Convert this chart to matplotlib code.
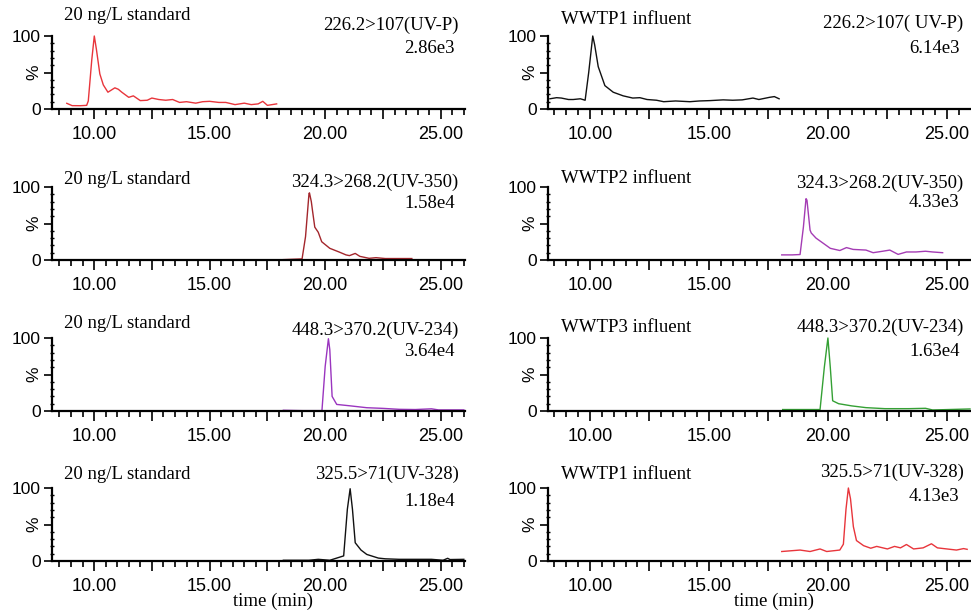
import matplotlib.pyplot as plt
from matplotlib.ticker import MultipleLocator, FuncFormatter

# Chromatogram traces (time in min, relative intensity in %)
t_uvp_std = [8.82, 9.05, 9.4, 9.68, 9.75, 9.9, 10.01, 10.1, 10.25, 10.4, 10.6, 10.75, 10.9, 11.05,
             11.2, 11.5, 11.7, 12.0, 12.3, 12.5, 12.8, 13.1, 13.4, 13.7, 14.0, 14.4, 14.7, 15.0,
             15.4, 15.7, 16.1, 16.5, 16.8, 17.1, 17.3, 17.5, 17.9]
y_uvp_std = [7.8, 4.6, 4.5, 5, 11, 67, 100, 82, 48, 33, 23, 26, 29, 27,
             23, 16, 18, 11.5, 12, 15, 13, 12, 13, 9, 10, 8, 10, 10.5,
             9, 9, 6, 8, 6, 7, 10.5, 5, 7]

t_uvp_inf = [8.32, 8.6, 8.8, 9.1, 9.3, 9.6, 9.8, 9.95, 10.12, 10.2, 10.35, 10.63, 10.98, 11.4,
             11.8, 12.1, 12.4, 12.8, 13.1, 13.6, 14.2, 14.6, 15.05, 15.6, 16.0, 16.4, 16.85,
             17.1, 17.55, 17.75, 17.95]
y_uvp_inf = [14, 15.5, 15, 13, 13, 14, 12, 50, 100, 88, 58, 32, 23, 18,
             15, 15.5, 13, 12, 10, 11, 10, 11, 11.5, 12.5, 12, 12.5, 15,
             13, 16, 17, 14]

t_uv350_std = [18.19, 18.6, 19.0, 19.15, 19.3, 19.32, 19.4, 19.45, 19.55, 19.7, 19.85, 20.2, 20.6,
               20.9, 21.05, 21.3, 21.5, 21.9, 22.2, 22.6, 23.2, 23.75]
y_uv350_std = [0.5, 1, 1.5, 32, 91, 92, 80, 68, 45, 38, 25, 16, 11,
               7, 6, 9, 5, 2.3, 3.2, 2, 2, 2]

t_uv350_inf = [18.06, 18.5, 18.83, 18.97, 19.08, 19.12, 19.25, 19.3, 19.5, 19.8, 20.1, 20.5, 20.78,
               21.06, 21.6, 21.9, 22.3, 22.6, 22.95, 23.3, 23.7, 24.1, 24.4, 24.82]
y_uv350_inf = [7, 7, 7.5, 45, 84, 82, 41, 37, 30, 23, 16, 13, 17,
               14.5, 13.6, 10, 12, 13.6, 7.7, 11, 11, 12, 11, 10]

t_uv234_std = [18.19, 19.0, 19.86, 20.0, 20.14, 20.2, 20.3, 20.5, 21.1, 21.8, 22.5, 23.2, 23.9,
               24.6, 24.9, 26.0]
y_uv234_std = [1, 0.5, 0.5, 61, 99, 84, 20, 9, 7, 4.5, 3.6, 2.3, 2,
               3, 1.5, 1.5]

t_uv234_inf = [18.1, 19.0, 19.67, 19.85, 20.0, 20.1, 20.2, 20.45, 21.0, 21.6, 22.4, 23.4, 24.1,
               24.4, 25.97]
y_uv234_inf = [2, 2, 2, 60, 100, 60, 14, 10, 7, 4.6, 3.2, 3.2, 3.7,
               1.4, 2.8]

t_uv328_std = [18.19, 19.3, 19.7, 20.2, 20.8, 20.96, 21.08, 21.18, 21.3, 21.55, 21.8, 22.3, 22.6,
               23.2, 24.6, 25.1, 25.3, 25.4, 26.0]
y_uv328_std = [1, 1, 2.3, 1, 7, 71, 99, 71, 25, 15, 9, 4, 3,
               2.3, 2.3, 1, 3.7, 2, 2.3]

t_uv328_inf = [18.06, 18.83, 19.25, 19.67, 19.95, 20.5, 20.65, 20.76, 20.86, 20.95, 21.07, 21.2,
               21.5, 21.8, 22.05, 22.5, 22.8, 23.05, 23.3, 23.6, 24.0, 24.35, 24.6, 25.0, 25.4,
               25.7, 25.85]
y_uv328_inf = [13, 15, 13, 16.5, 13, 15, 23, 71, 100, 85, 47, 28,
               21, 17.5, 20, 16.5, 20, 18, 22.6, 16.5, 18, 23.6, 18, 16.5, 15,
               17, 16]

samples = ['20 ng/L standard', 'WWTP1 influent',
           '20 ng/L standard', 'WWTP2 influent',
           '20 ng/L standard', 'WWTP3 influent',
           '20 ng/L standard', 'WWTP1 influent']
transitions = ['226.2>107(UV-P)', '226.2>107( UV-P)',
               '324.3>268.2(UV-350)', '324.3>268.2(UV-350)',
               '448.3>370.2(UV-234)', '448.3>370.2(UV-234)',
               '325.5>71(UV-328)', '325.5>71(UV-328)']
intensities = ['2.86e3', '6.14e3', '1.58e4', '4.33e3', '3.64e4', '1.63e4', '1.18e4', '4.13e3']

traces = [(t_uvp_std, y_uvp_std), (t_uvp_inf, y_uvp_inf),
          (t_uv350_std, y_uv350_std), (t_uv350_inf, y_uv350_inf),
          (t_uv234_std, y_uv234_std), (t_uv234_inf, y_uv234_inf),
          (t_uv328_std, y_uv328_std), (t_uv328_inf, y_uv328_inf)]
colors = ['#e8353b', '#111111', '#a3262c', '#a43cb4', '#9a35bf', '#34a034', '#111111', '#e8353b']

# text heights (data units) for sample name, transition and intensity
text_y = [(128, 115, 83), (122, 118, 83),
          (110, 107, 78), (112, 105, 79),
          (120, 111, 81), (115, 115, 81),
          (119, 119, 81), (119, 122, 88)]

serif = 'Liberation Serif'
sans = 'Liberation Sans'

fig = plt.figure(figsize=(9.71, 6.15), dpi=100)
W, H = 971, 615
col_x = [(52, 465, 8.18, 26.05), (548, 970, 8.24, 25.97)]
row_bottom = [109, 260, 411, 561]
row_h = 73

for i in range(8):
    r, c = divmod(i, 2)
    x0, x1, tmin, tmax = col_x[c]
    ax = fig.add_axes([x0 / W, 1 - row_bottom[r] / H, (x1 - x0) / W, row_h / H])
    t, y = traces[i]
    ax.plot(t, y, color=colors[i], linewidth=1.0, clip_on=False)
    ax.set_xlim(tmin, tmax)
    ax.set_ylim(0, 100)

    for s in ['top', 'right']:
        ax.spines[s].set_visible(False)
    ax.spines['left'].set_linewidth(1.6)
    ax.spines['bottom'].set_linewidth(1.6)

    ax.xaxis.set_major_locator(MultipleLocator(2.5))
    ax.xaxis.set_minor_locator(MultipleLocator(0.5))
    ax.xaxis.set_major_formatter(FuncFormatter(lambda v, p: '%.2f' % v if abs(v % 5) < 1e-6 else ''))
    ax.yaxis.set_minor_locator(MultipleLocator(10))
    ax.set_yticks([0, 50, 100])
    ax.set_yticklabels(['0', '%', '100'])
    ax.get_yticklabels()[1].set_rotation(90)
    ax.get_yticklabels()[1].set_va('center')

    ax.tick_params(axis='x', which='major', length=7, width=1.2, pad=5, labelsize=13)
    ax.tick_params(axis='x', which='minor', length=4, width=1.2)
    ax.tick_params(axis='y', which='major', length=6, width=1.2, pad=2, labelsize=12.5)
    ax.tick_params(axis='y', which='minor', length=3, width=1.0, direction='inout')
    for lab in ax.get_xticklabels() + ax.get_yticklabels():
        lab.set_fontfamily(sans)

    ty, ly1, ly2 = text_y[i]
    tr = ax.get_yaxis_transform()
    ax.text(0.03, ty, samples[i], transform=tr, ha='left', va='center',
            fontsize=13.5, family=serif, clip_on=False)
    ax.text(0.985, ly1, transitions[i], transform=tr, ha='right', va='center',
            fontsize=13.5, family=serif, clip_on=False)
    ax.text(0.975, ly2, intensities[i], transform=tr, ha='right', va='center',
            fontsize=13.5, family=serif, clip_on=False)

    if r == 3:
        ax.set_xlabel('time (min)', family=serif, fontsize=13.5)
        ax.xaxis.set_label_coords(0.535, -0.43)

fig.savefig('out.png', dpi=100)
